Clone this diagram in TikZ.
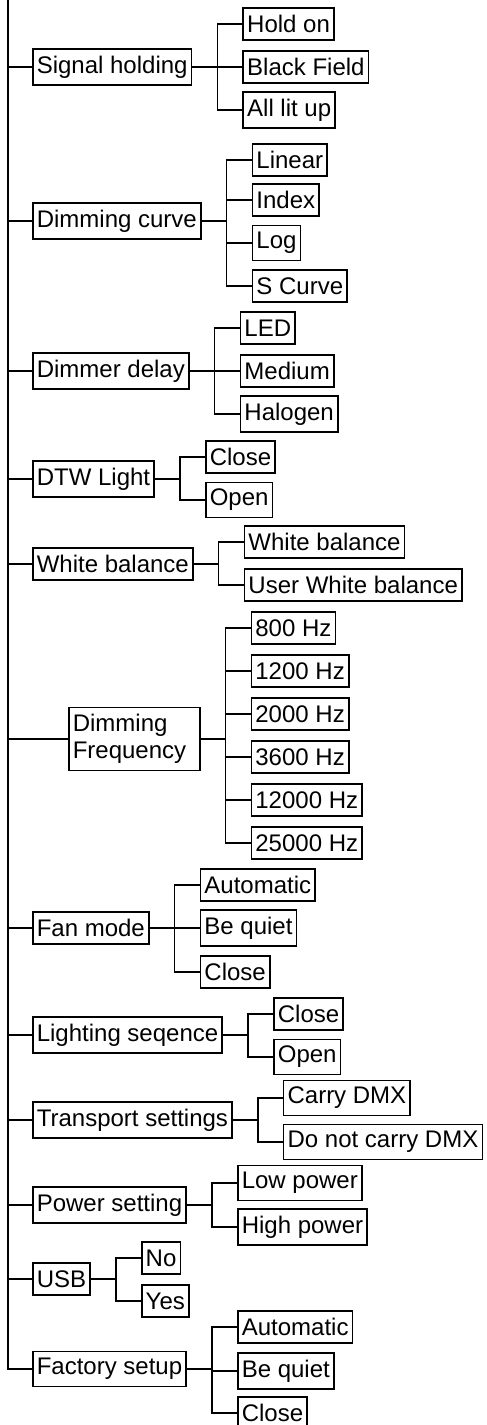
\documentclass[tikz,border=0pt]{standalone}
\usepackage{fontspec}
\setmainfont{Liberation Sans}
\usetikzlibrary{positioning}

\begin{document}
\begin{tikzpicture}[x=1pt, y=1pt, node distance=25pt, every node/.style={font=\fontsize{12}{13.5}\selectfont}, menubox/.style={draw,line width=0.8pt,inner xsep=2pt,minimum height=16pt,anchor=west}, itembox/.style={draw,line width=0.8pt,inner xsep=2pt,minimum height=16pt}, wire/.style={line width=0.8pt}]
  \useasboundingbox (0,0) rectangle (243.5,-712.5);
  \coordinate (top) at (4,0);
  % first level
  \node[menubox] (sig) at (16,-33.5) {Signal holding};
  \node[menubox] (dcurve) at (16,-110.5) {Dimming curve};
  \node[menubox] (ddelay) at (16,-185.5) {Dimmer delay};
  \node[menubox] (dtw) at (16,-239.5) {DTW Light};
  \node[menubox] (wbal) at (16,-282) {White balance};
  \node[menubox,text width=61.5pt,align=left,minimum height=30.5pt] (dfreq) at (34,-369.5) {Dimming\\Frequency};
  \node[menubox] (fan) at (16,-464) {Fan mode};
  \node[menubox] (lseq) at (16,-517.5) {Lighting seqence};
  \node[menubox] (trans) at (16,-560) {Transport settings};
  \node[menubox] (power) at (16,-602.5) {Power setting};
  \node[menubox] (usb) at (16,-639.5) {USB};
  \node[menubox] (fact) at (16,-684.5) {Factory setup};
  % second level
  \node[itembox,right=of sig,yshift=21.5pt] (hold) {Hold on};
  \node[itembox,right=of sig] (black) {Black Field};
  \node[itembox,right=of sig,yshift=-21.5pt] (lit) {All lit up};
  \node[itembox,right=of dcurve,yshift=30.5pt] (linear) {Linear};
  \node[itembox,right=of dcurve,yshift=10.5pt] (index) {Index};
  \node[itembox,right=of dcurve,yshift=-11pt] (logc) {Log};
  \node[itembox,right=of dcurve,yshift=-32.5pt] (scurve) {S Curve};
  \node[itembox,right=of ddelay,yshift=21.5pt] (led) {LED};
  \node[itembox,right=of ddelay] (medium) {Medium};
  \node[itembox,right=of ddelay,yshift=-21.5pt] (halogen) {Halogen};
  \node[itembox,right=of dtw,yshift=11pt] (dtwclose) {Close};
  \node[itembox,right=of dtw,yshift=-10.5pt] (dtwopen) {Open};
  \node[itembox,right=of wbal,yshift=11pt] (wbdef) {White balance};
  \node[itembox,right=of wbal,yshift=-10.5pt] (wbuser) {User White balance};
  \node[itembox,right=of dfreq,yshift=55.5pt] (f800) {800 Hz};
  \node[itembox,right=of dfreq,yshift=34pt] (f1200) {1200 Hz};
  \node[itembox,right=of dfreq,yshift=12.5pt] (f2000) {2000 Hz};
  \node[itembox,right=of dfreq,yshift=-9pt] (f3600) {3600 Hz};
  \node[itembox,right=of dfreq,yshift=-30.5pt] (f12000) {12000 Hz};
  \node[itembox,right=of dfreq,yshift=-52pt] (f25000) {25000 Hz};
  \node[itembox,right=of fan,yshift=21.5pt] (fanauto) {Automatic};
  \node[itembox,right=of fan] (fanquiet) {Be quiet};
  \node[itembox,right=of fan,yshift=-22pt] (fanclose) {Close};
  \node[itembox,right=of lseq,yshift=10.5pt] (lsclose) {Close};
  \node[itembox,right=of lseq,yshift=-11pt] (lsopen) {Open};
  \node[itembox,right=of trans,yshift=11pt] (carry) {Carry DMX};
  \node[itembox,right=of trans,yshift=-11pt] (nocarry) {Do not carry DMX};
  \node[itembox,right=of power,yshift=11pt] (low) {Low power};
  \node[itembox,right=of power,yshift=-11pt] (high) {High power};
  \node[itembox,right=of usb,yshift=10.5pt] (usbno) {No};
  \node[itembox,right=of usb,yshift=-11pt] (usbyes) {Yes};
  \node[itembox,right=of fact,yshift=21pt] (fsauto) {Automatic};
  \node[itembox,right=of fact,yshift=-1pt] (fsquiet) {Be quiet};
  \node[itembox,right=of fact,yshift=-22pt] (fsclose) {Close};
  % spine and stubs
  \draw[wire] (top) |- (fact.west);
  \foreach \p in {sig,dcurve,ddelay,dtw,wbal,dfreq,fan,lseq,trans,power,usb}
    \draw[wire] (\p.west) -- (\p.west -| top);
  % brackets
  \foreach \c in {hold,black,lit} \draw[wire] (sig.east) -- ++(12.5,0) |- (\c.west);
  \foreach \c in {linear,index,logc,scurve} \draw[wire] (dcurve.east) -- ++(12.5,0) |- (\c.west);
  \foreach \c in {led,medium,halogen} \draw[wire] (ddelay.east) -- ++(12.5,0) |- (\c.west);
  \foreach \c in {dtwclose,dtwopen} \draw[wire] (dtw.east) -- ++(12.5,0) |- (\c.west);
  \foreach \c in {wbdef,wbuser} \draw[wire] (wbal.east) -- ++(12.5,0) |- (\c.west);
  \foreach \c in {f800,f1200,f2000,f3600,f12000,f25000} \draw[wire] (dfreq.east) -- ++(12.5,0) |- (\c.west);
  \foreach \c in {fanauto,fanquiet,fanclose} \draw[wire] (fan.east) -- ++(12.5,0) |- (\c.west);
  \foreach \c in {lsclose,lsopen} \draw[wire] (lseq.east) -- ++(12.5,0) |- (\c.west);
  \foreach \c in {carry,nocarry} \draw[wire] (trans.east) -- ++(12.5,0) |- (\c.west);
  \foreach \c in {low,high} \draw[wire] (power.east) -- ++(12.5,0) |- (\c.west);
  \foreach \c in {usbno,usbyes} \draw[wire] (usb.east) -- ++(12.5,0) |- (\c.west);
  \foreach \c in {fsauto,fsquiet,fsclose} \draw[wire] (fact.east) -- ++(12.5,0) |- (\c.west);
\end{tikzpicture}
\end{document}
